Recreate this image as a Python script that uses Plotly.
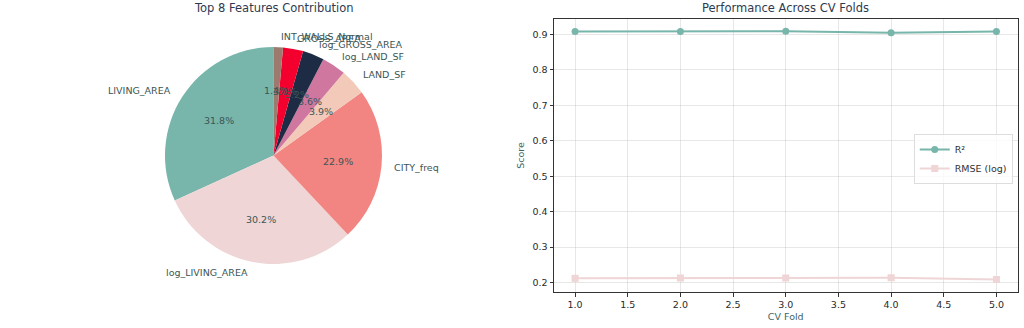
import numpy as np
import plotly.graph_objects as go

# ---- data ----
features = ["LIVING_AREA", "log_LIVING_AREA", "CITY_freq", "LAND_SF",
            "log_LAND_SF", "log_GROSS_AREA", "GROSS_AREA", "INT_WALLS_Normal"]
contrib = [31.8, 30.2, 22.9, 3.9, 3.6, 3.2, 3.0, 1.4]
pie_colors = ["#78b5aa", "#efd5d5", "#f28582", "#f3cab9",
              "#d0779f", "#1d2b44", "#f3002f", "#9c7b6e"]

folds = [1, 2, 3, 4, 5]
r2 = [0.908, 0.908, 0.909, 0.905, 0.908]
rmse = [0.212, 0.213, 0.213, 0.214, 0.209]
xticks = [1.0, 1.5, 2.0, 2.5, 3.0, 3.5, 4.0, 4.5, 5.0]
yticks = [0.2, 0.3, 0.4, 0.5, 0.6, 0.7, 0.8, 0.9]

W, H = 1024, 328
FONT = "DejaVu Sans"
TXT = "#3b5656"

# pie geometry (pixels)
cx, cy, R = 273.5, 155.5, 108.5

vals = np.array(contrib, dtype=float)
fr = vals / vals.sum()
cum = np.concatenate([[0], np.cumsum(fr)[:-1]])

fig = go.Figure()
# plotly's counterclockwise pies end the first slice at the rotation angle;
# shift so the first slice starts at 12 o'clock like matplotlib's startangle=90
fig.add_trace(go.Pie(
    labels=features, values=contrib, sort=False, direction="counterclockwise",
    rotation=-360 * fr[0], textinfo="none", showlegend=False, hoverinfo="label+percent",
    marker=dict(colors=pie_colors, line=dict(width=0)),
    domain=dict(x=[(cx - R) / W, (cx + R) / W], y=[1 - (cy + R) / H, 1 - (cy - R) / H]),
))

annotations = []
for name, f, c in zip(features, fr, cum):
    th = np.deg2rad(90 + 360 * (c + f / 2))
    lx, ly = np.cos(th), np.sin(th)
    annotations.append(dict(
        x=(cx + 1.1 * R * lx) / W, y=1 - (cy - 1.1 * R * ly) / H,
        xref="paper", yref="paper", text=name, showarrow=False,
        xanchor="left" if lx > 0 else "right", yanchor="middle",
        font=dict(family=FONT, size=9.5, color=TXT)))
    annotations.append(dict(
        x=(cx + 0.6 * R * lx) / W, y=1 - (cy - 0.6 * R * ly) / H,
        xref="paper", yref="paper", text=f"{f*100:.1f}%", showarrow=False,
        xanchor="center", yanchor="middle",
        font=dict(family=FONT, size=9.5, color=TXT)))

annotations.append(dict(x=273.5 / W, y=1 - 8 / H, xref="paper", yref="paper",
                        text="Top 8 Features Contribution", showarrow=False,
                        xanchor="center", yanchor="middle",
                        font=dict(family=FONT, size=11.5, color="#2e3a50")))
annotations.append(dict(x=785 / W, y=1 - 8 / H, xref="paper", yref="paper",
                        text="Performance Across CV Folds", showarrow=False,
                        xanchor="center", yanchor="middle",
                        font=dict(family=FONT, size=11.5, color="#2e3a50")))

fig.add_trace(go.Scatter(
    x=folds, y=r2, mode="lines+markers", name="R²",
    line=dict(color="#78b5aa", width=2),
    marker=dict(symbol="circle", size=7, color="#78b5aa")))
fig.add_trace(go.Scatter(
    x=folds, y=rmse, mode="lines+markers", name="RMSE (log)",
    line=dict(color="#efd5d5", width=2),
    marker=dict(symbol="square", size=7, color="#efd5d5")))

axis_common = dict(showline=True, linecolor="#333333", linewidth=1, mirror=True,
                   ticks="outside", ticklen=3.5, tickcolor="#333333",
                   showgrid=True, gridcolor="rgba(176,176,176,0.3)", gridwidth=1,
                   zeroline=False,
                   tickfont=dict(family=FONT, size=9.5, color="#2a2a2a"))

fig.update_layout(
    width=W, height=H, margin=dict(l=0, r=0, t=0, b=0),
    paper_bgcolor="white", plot_bgcolor="white",
    annotations=annotations,
    xaxis=dict(domain=[554 / W, 1017.5 / W], range=[0.8, 5.2],
               tickvals=xticks, ticktext=[f"{v:.1f}" for v in xticks],
               title=dict(text="CV Fold", standoff=4,
                          font=dict(family=FONT, size=9.5, color="#3d6666")),
               **axis_common),
    yaxis=dict(domain=[1 - 292 / H, 1 - 19 / H], range=[0.1735, 0.9435],
               tickvals=yticks, ticktext=[f"{v:.1f}" for v in yticks],
               title=dict(text="Score", standoff=6,
                          font=dict(family=FONT, size=9.5, color="#3d6666")),
               **axis_common),
    legend=dict(x=0.989, y=1 - 134 / H, xanchor="right", yanchor="top",
                bgcolor="rgba(255,255,255,0.8)", bordercolor="#dddddd", borderwidth=1,
                font=dict(family=FONT, size=9.5, color="#333333"),
                itemwidth=30, tracegroupgap=0),
    font=dict(family=FONT),
)

fig.write_html("out.html")
